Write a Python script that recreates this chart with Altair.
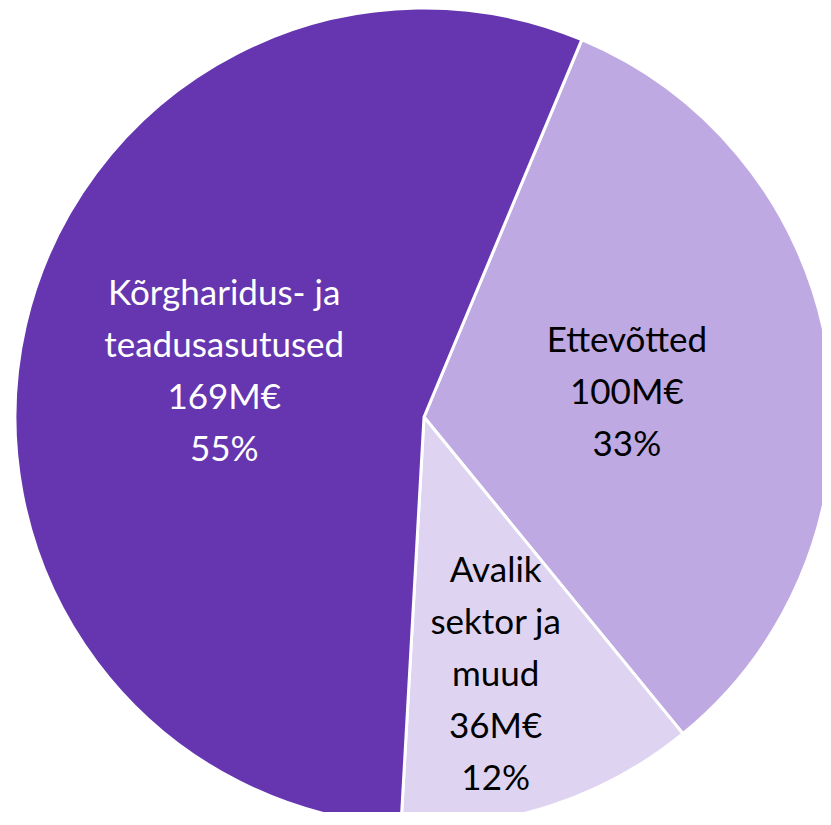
import math
import altair as alt
import pandas as pd

# data
names = ["Ettevõtted", "Avalik\nsektor ja\nmuud", "Kõrgharidus- ja\nteadusasutused"]
values = [100, 36, 169]
pcts = ["33%", "12%", "55%"]
colors = ["#BEA9E2", "#DED4F2", "#6636B0"]
text_colors = ["#000000", "#000000", "#FFFFFF"]

df = pd.DataFrame({
    "name": names,
    "value": values,
    "pct": pcts,
    "order": list(range(len(names))),
    "tcolor": text_colors,
})
df["label"] = df["name"] + "\n" + df["value"].astype(str) + "M€\n" + df["pct"]

start = math.radians(22.7)
theta_scale = alt.Scale(domain=[0, sum(values)], range=[start, start + 2 * math.pi])
CX, CY, R = 416, 409, 409
LH = 52

base = alt.Chart(df)

arc = base.mark_arc(stroke="white", strokeWidth=3, outerRadius=R).encode(
    theta=alt.Theta("value:Q", stack=True, scale=theta_scale),
    order=alt.Order("order:Q"),
    color=alt.Color("name:N", scale=alt.Scale(domain=names, range=colors), legend=None),
    x=alt.value(CX),
    y=alt.value(CY),
)

def text_layer(idx, radius, dx=0, shift=0):
    nlines = df["label"][idx].count("\n") + 1
    return base.transform_window(
        cum="sum(value)", sort=[alt.SortField("order")]
    ).transform_calculate(
        mid="datum.cum - datum.value / 2"
    ).transform_filter(f"datum.order == {idx}").mark_text(
        font="Lato", fontSize=35, lineBreak="\n", lineHeight=LH,
        align="center", baseline="middle", radius=radius, dx=dx,
        dy=-(nlines - 1) * LH / 2 + shift,
    ).encode(
        theta=alt.Theta("mid:Q", stack=None, scale=theta_scale),
        text="label:N",
        color=alt.Color("tcolor:N", scale=None),
        x=alt.value(CX),
        y=alt.value(CY),
    )

t0 = text_layer(0, 205, shift=6)
t1 = text_layer(1, 264, dx=-10, shift=7)
t2 = text_layer(2, 205, shift=1)

chart = alt.layer(arc, t0, t1, t2).properties(
    width=814, height=804, padding=0,
    autosize=alt.AutoSizeParams(type="none"),
    background="white",
).configure_view(stroke=None)

chart.save("out.html", embed_options={"renderer": "svg", "actions": False})
